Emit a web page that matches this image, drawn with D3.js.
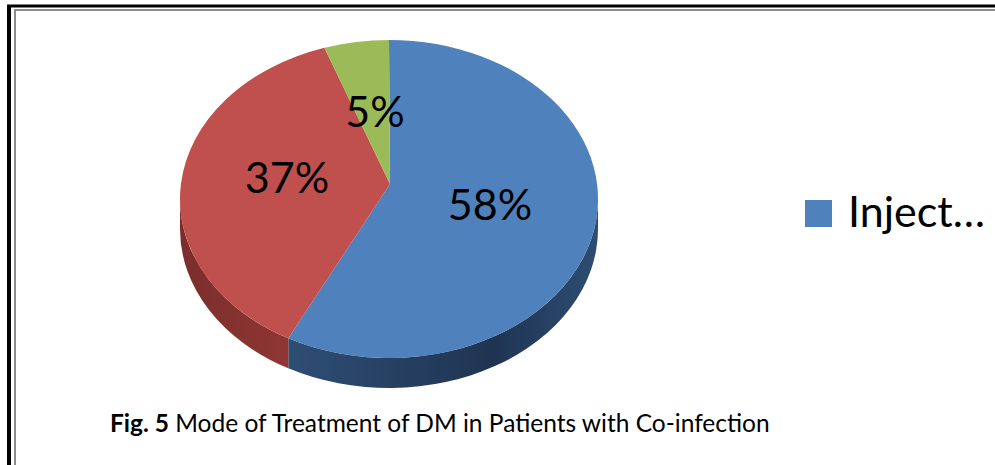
<!DOCTYPE html>
<html>
<head>
<meta charset="utf-8">
<script src="https://cdn.jsdelivr.net/npm/d3@7"></script>
<style>
  body { margin: 0; background: #fff; }
  svg { display: block; }
</style>
</head>
<body>
<div id="vis"></div>
<script>
// data
var categories = ["Injection", "Oral", "Both"];
var values = [58, 37, 5];
var labels = ["58%", "37%", "5%"];
var legendLabels = ["Inject…"];
var caption = ["Fig. 5", " Mode of Treatment of DM in Patients with Co-infection"];

var width = 995, height = 465;

var topColors = ["#4f81bd", "#c0504d", "#9bbb59"];
var sideDark = ["#1f3452", "#7a2e2c", "#5f7634"];
var sideLight = ["#2e4d73", "#8e3633", "#6f8a3c"];

// ellipse of the pie top
var cx = 389, cy = 199, rx = 209, ry = 159, depth = 30;
var apex = [390, 184];

var svg = d3.select("#vis")
    .append("svg")
    .attr("width", width)
    .attr("height", height);

// frame
svg.append("line").attr("x1", 9).attr("x2", 9).attr("y1", 5).attr("y2", height)
    .attr("stroke", "#000").attr("stroke-width", 4);
svg.append("line").attr("x1", 7).attr("x2", width).attr("y1", 6).attr("y2", 6)
    .attr("stroke", "#000").attr("stroke-width", 3);
svg.append("line").attr("x1", 15).attr("x2", 15).attr("y1", 9).attr("y2", height)
    .attr("stroke", "#8c8c8c").attr("stroke-width", 2);
svg.append("line").attr("x1", 14).attr("x2", width).attr("y1", 10).attr("y2", 10)
    .attr("stroke", "#8c8c8c").attr("stroke-width", 2);

var pie = d3.pie().sort(null).value(function(d) { return d; });
var arcs = pie(values);

function pt(a, dy) {
    return [cx + rx * Math.sin(a), cy - ry * Math.cos(a) + (dy || 0)];
}

var defs = svg.append("defs");
arcs.forEach(function(d, i) {
    var g = defs.append("linearGradient")
        .attr("id", "side" + i)
        .attr("gradientUnits", "userSpaceOnUse")
        .attr("x1", cx - rx).attr("x2", cx + rx)
        .attr("y1", 0).attr("y2", 0);
    g.append("stop").attr("offset", "0%").attr("stop-color", sideDark[i]);
    g.append("stop").attr("offset", "25%").attr("stop-color", sideLight[i]);
    g.append("stop").attr("offset", "27%").attr("stop-color", sideLight[i]);
    g.append("stop").attr("offset", "75%").attr("stop-color", sideDark[i]);
    g.append("stop").attr("offset", "100%").attr("stop-color", sideLight[i]);
});

// sides (front half only)
arcs.forEach(function(d, i) {
    var s0 = Math.max(d.startAngle, Math.PI / 2);
    var s1 = Math.min(d.endAngle, 3 * Math.PI / 2);
    if (s1 <= s0) return;
    var p0 = pt(s0), p1 = pt(s1), q0 = pt(s0, depth), q1 = pt(s1, depth);
    var path = "M" + p0 + "A" + rx + "," + ry + " 0 0 1 " + p1 +
        "L" + q1 + "A" + rx + "," + ry + " 0 0 0 " + q0 + "Z";
    svg.append("path")
        .attr("d", path)
        .attr("fill", "url(#side" + i + ")");
});

// tops
arcs.forEach(function(d, i) {
    var p0 = pt(d.startAngle), p1 = pt(d.endAngle);
    var large = (d.endAngle - d.startAngle) > Math.PI ? 1 : 0;
    var path = "M" + apex + "L" + p0 + "A" + rx + "," + ry + " 0 " + large + " 1 " + p1 + "Z";
    svg.append("path")
        .attr("d", path)
        .attr("fill", topColors[i]);
});

// data labels
var labelPos = [[490, 220], [287, 193], [375, 127]];
svg.selectAll(".lbl")
    .data(labels)
    .enter().append("text")
    .attr("class", "lbl")
    .attr("x", function(d, i) { return labelPos[i][0]; })
    .attr("y", function(d, i) { return labelPos[i][1]; })
    .attr("text-anchor", "middle")
    .style("font-family", "Lato, 'Open Sans', sans-serif")
    .style("font-size", "43px")
    .style("fill", "#000")
    .text(function(d) { return d; });

// legend
var leg = svg.append("g").attr("transform", "translate(805,200)");
leg.append("rect")
    .attr("width", 27).attr("height", 27)
    .attr("fill", topColors[0]);
leg.append("text")
    .attr("x", 43).attr("y", 27)
    .style("font-family", "Lato, 'Open Sans', sans-serif")
    .style("font-size", "43px")
    .style("fill", "#000")
    .text(legendLabels[0]);

// caption
var cap = svg.append("text")
    .attr("x", 110).attr("y", 432)
    .style("font-family", "Lato, 'Open Sans', sans-serif")
    .style("font-size", "24.5px")
    .style("fill", "#000");
cap.append("tspan").style("font-weight", "bold").text(caption[0]);
cap.append("tspan").text(caption[1]);
</script>
</body>
</html>
